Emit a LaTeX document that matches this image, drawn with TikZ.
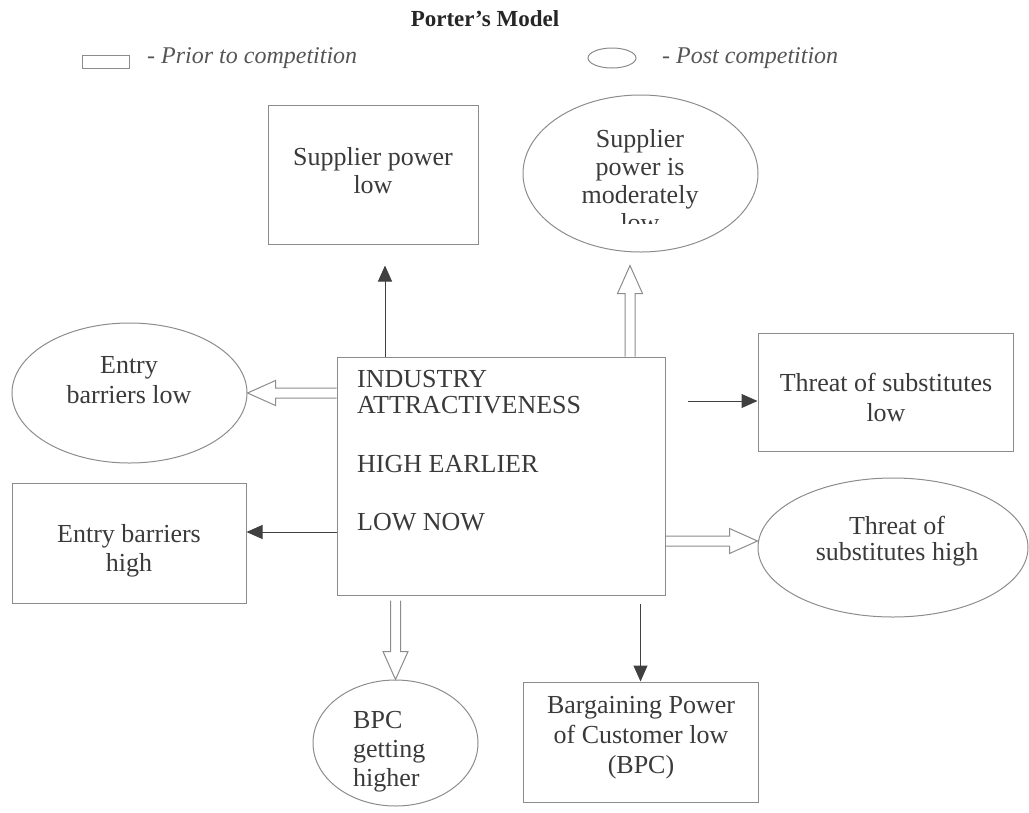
\documentclass[tikz,border=0pt]{standalone}
\usepackage{fontspec}
\setmainfont{Liberation Serif}
\usepackage{tikz}
\usetikzlibrary{shapes.geometric}
\usetikzlibrary{arrows.meta}
\usetikzlibrary{calc}
\definecolor{linegray}{RGB}{140,140,140}
\definecolor{txtgray}{RGB}{58,58,58}
\definecolor{leggray}{RGB}{85,85,85}

\tikzset{
	box/.style={draw=linegray, line width=1pt, rectangle, inner sep=0pt},
	oval/.style={draw=linegray, line width=1pt, ellipse, inner sep=0pt},
	txt/.style={text=txtgray, align=center, inner sep=0pt, font=\fontsize{26}{29}\selectfont},
	legtxt/.style={text=leggray, inner sep=0pt, anchor=base west, font=\itshape\fontsize{24}{28}\selectfont},
	blk/.style={draw=black!75, line width=1pt, -{Triangle[length=16pt,width=14pt]}},
	hollow/.style={draw=linegray, line width=1pt, line join=miter, to path={
		($(\tikztostart)!5pt!90:(\tikztotarget)$)
		-- ($($(\tikztotarget)!28pt!(\tikztostart)$)!5pt!90:(\tikztotarget)$)
		-- ($($(\tikztotarget)!28pt!(\tikztostart)$)!12.5pt!90:(\tikztotarget)$)
		-- (\tikztotarget)
		-- ($($(\tikztotarget)!28pt!(\tikztostart)$)!12.5pt!-90:(\tikztotarget)$)
		-- ($($(\tikztotarget)!28pt!(\tikztostart)$)!5pt!-90:(\tikztotarget)$)
		-- ($(\tikztostart)!5pt!-90:(\tikztotarget)$)
	}}
}

\begin{document}
\begin{tikzpicture}[x=1pt,y=-1pt]
	\useasboundingbox (0,0) rectangle (1029,812);

	\node[inner sep=0pt, text=black!85, font=\bfseries\fontsize{23}{26}\selectfont] (title) at (485,19) {Porter's Model};
	\node[box, minimum width=47, minimum height=13] (legRect) at (105.5,61.5) {};
	\node[legtxt] (legPrior) at (147,63) {- Prior to competition};
	\node[oval, minimum width=48, minimum height=20] (legOval) at (612,58) {};
	\node[legtxt] (legPost) at (662,63) {- Post competition};

	\node[box, minimum width=328, minimum height=238] (main) at (501,476) {};
	\node[txt, align=left, anchor=north west, font=\fontsize{26}{26}\selectfont] (mainT) at (357,370) {INDUSTRY\\ATTRACTIVENESS\\[33pt]HIGH EARLIER\\[32pt]LOW NOW};

	\node[box, minimum width=210, minimum height=139] (supLow) at (373,174.5) {};
	\node[txt, font=\fontsize{26}{28}\selectfont] (supLowT) at (373,171) {Supplier power\\low};

	\node[oval, minimum width=235, minimum height=157] (supMod) at (640.5,173.5) {};
	\begin{scope}
		\clip (520,90) rectangle (760,223);
		\node[txt, font=\fontsize{26}{28}\selectfont] (supModT) at (640,181) {Supplier\\power is\\moderately\\low};
	\end{scope}

	\node[oval, minimum width=235, minimum height=140] (entLow) at (129.5,393) {};
	\node[txt, font=\fontsize{26}{30}\selectfont] (entLowT) at (129,380) {Entry\\barriers low};

	\node[box, minimum width=234, minimum height=120] (entHigh) at (129,543) {};
	\node[txt] (entHighT) at (129,550.5) {Entry barriers\\high};

	\node[box, minimum width=255, minimum height=118] (thrLow) at (885.5,392) {};
	\node[txt, font=\fontsize{26}{30}\selectfont] (thrLowT) at (886,397.5) {Threat of substitutes\\low};

	\node[oval, minimum width=270, minimum height=139] (thrHigh) at (893,547.5) {};
	\node[txt, font=\fontsize{26}{26}\selectfont] (thrHighT) at (897,541) {Threat of\\substitutes high};

	\node[oval, minimum width=165, minimum height=126] (bpcUp) at (395.5,743) {};
	\node[txt, align=left, anchor=west] (bpcUpT) at (353,752) {BPC\\getting\\higher};

	\node[box, minimum width=235, minimum height=120] (bpcLow) at (640.5,742) {};
	\node[txt, font=\fontsize{26}{30}\selectfont] (bpcLowT) at (641,738) {Bargaining Power\\of Customer low\\(BPC)};

	\coordinate (thrFrom) at (688,401);

	\draw[blk] ([xshift=-116]main.north) -- ([shift={(12,21)}]supLow.south);
	\draw[hollow] ([xshift=129]main.north) to ([shift={(-10.5,13)}]supMod.south);
	\draw[hollow] (main.west |- entLow.east) to (entLow.east);
	\draw[blk] (main.west |- 0,532) -- (entHigh.east |- 0,532);
	\draw[blk] (thrFrom) -- (thrLow.west |- thrFrom);
	\draw[hollow] (main.east |- 0,541) to (thrHigh.west |- 0,541);
	\draw[hollow] ($(bpcUp.north |- main.south)+(0,5)$) to (bpcUp.north);
	\draw[blk] ($(bpcLow.north |- main.south)+(0,8)$) -- (bpcLow.north);
\end{tikzpicture}
\end{document}
